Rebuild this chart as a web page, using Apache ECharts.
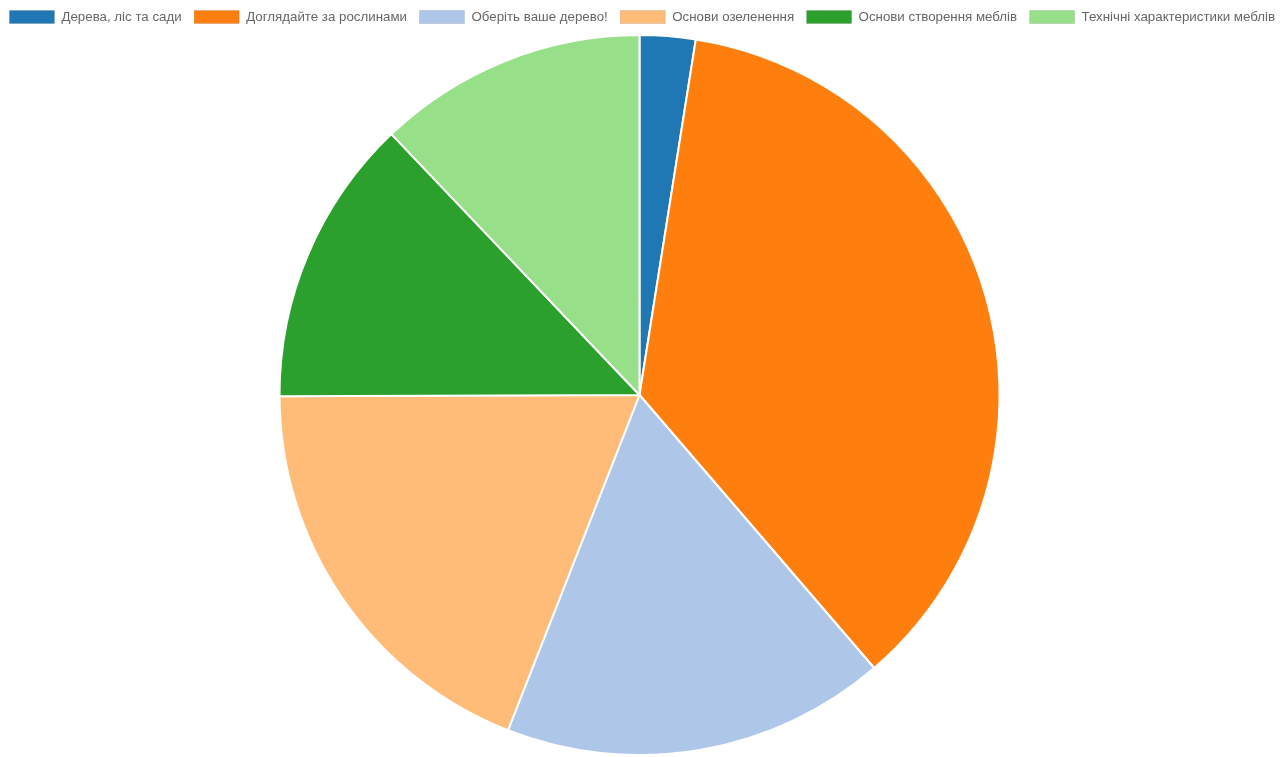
<!DOCTYPE html>
<html>
<head>
<meta charset="utf-8">
<script src="https://cdn.jsdelivr.net/npm/echarts@6/dist/echarts.min.js"></script>
<style>
  html, body { margin: 0; padding: 0; background: #fff; }
  #chart { width: 1284px; height: 757px; }
</style>
</head>
<body>
<div id="chart"></div>
<script>
var categories = [
    "Дерева, ліс та сади",
    "Доглядайте за рослинами",
    "Оберіть ваше дерево!",
    "Основи озеленення",
    "Основи створення меблів",
    "Технічні характеристики меблів"
];
var values = [2.5, 36.2, 17.25, 19.0, 12.95, 12.1];
var colors = ['#1f77b4', '#ff7f0e', '#aec7e8', '#ffbb78', '#2ca02c', '#98df8a'];

var chart = echarts.init(document.getElementById("chart"));
var option = {
    animation: false,
    color: colors,
    legend: {
        top: 5,
        left: 'center',
        itemWidth: 45,
        itemHeight: 13,
        itemGap: 12,
        icon: 'rect',
        data: categories,
        itemStyle: {borderColor: 'rgba(0,0,0,0.1)', borderWidth: 1},
        textStyle: {color: '#666', fontSize: 13.3, fontFamily: 'Liberation Sans, Arial, sans-serif', padding: [0, 0, 0, 2]}
    },
    series: [{
        type: 'pie',
        center: [639.5, 395],
        radius: 360,
        startAngle: 90,
        clockwise: true,
        label: {show: false},
        labelLine: {show: false},
        itemStyle: {borderColor: '#fff', borderWidth: 2},
        data: categories.map(function (c, i) {
            return {name: c, value: values[i]};
        })
    }]
};
chart.setOption(option);
</script>
</body>
</html>
